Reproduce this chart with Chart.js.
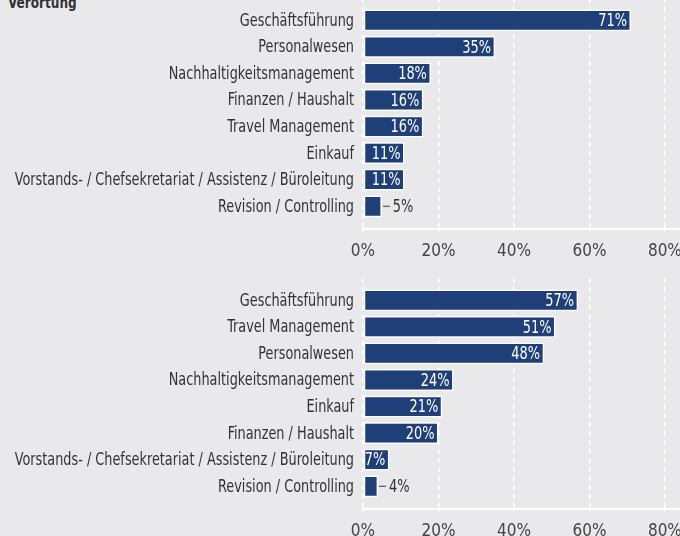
<!DOCTYPE html>
<html>
<head>
<meta charset="utf-8">
<script src="https://cdn.jsdelivr.net/npm/chart.js@4"></script>
<style>
  html, body { margin: 0; padding: 0; background: #e9e9eb; overflow: hidden; }
  body { width: 680px; height: 536px; position: relative; }
  #title { position: absolute; left: 8px; top: -7px; font: bold 16px "DejaVu Sans Condensed", "DejaVu Sans", sans-serif; color: #333;
           transform: scaleX(0.84); transform-origin: left top; }
  canvas { position: absolute; left: 0; }
  #chart1 { top: -3px; }
  #chart2 { top: 277px; }
</style>
</head>
<body>
<div id="title">Verortung</div>
<canvas id="chart1" width="680" height="275"></canvas>
<canvas id="chart2" width="680" height="275"></canvas>
<script>
const labelsTop = ["Geschäftsführung", "Personalwesen", "Nachhaltigkeitsmanagement", "Finanzen / Haushalt", "Travel Management", "Einkauf", "Vorstands- / Chefsekretariat / Assistenz / Büroleitung", "Revision / Controlling"];
const valuesTop = [71, 35, 18, 16, 16, 11, 11, 5];

const labelsBottom = ["Geschäftsführung", "Travel Management", "Personalwesen", "Nachhaltigkeitsmanagement", "Einkauf", "Finanzen / Haushalt", "Vorstands- / Chefsekretariat / Assistenz / Büroleitung", "Revision / Controlling"];
const valuesBottom = [57, 51, 48, 24, 21, 20, 7, 4];

const xTicks = [0, 20, 40, 60, 80];

const FONT = '"DejaVu Sans Condensed", "DejaVu Sans", sans-serif';
const BAR = "#1f3f78";

// no narrow font installed, so squeeze the text a little
function squeezedText(ctx, txt, x, y, align, sx) {
  ctx.save();
  ctx.translate(x, y);
  ctx.scale(sx, 1);
  ctx.textAlign = align;
  ctx.fillText(txt, 0, 0);
  ctx.restore();
}

// category names on the left + value labels on the bars
const textLayer = {
  id: "textLayer",
  afterDatasetsDraw(chart) {
    const ctx = chart.ctx;
    const yScale = chart.scales.y;
    const meta = chart.getDatasetMeta(0);
    const data = chart.data.datasets[0].data;
    ctx.save();
    ctx.textBaseline = "middle";

    ctx.font = "17px " + FONT;
    ctx.fillStyle = "#333";
    chart.data.labels.forEach((lab, i) => {
      squeezedText(ctx, lab, yScale.right - 9, yScale.getPixelForTick(i) + 1, "right", 0.84);
    });

    ctx.font = "18px " + FONT;
    meta.data.forEach((bar, i) => {
      const txt = data[i] + "%";
      if (data[i] < 6) {
        ctx.strokeStyle = "#555";
        ctx.lineWidth = 1.2;
        ctx.beginPath();
        ctx.moveTo(bar.x + 1, bar.y);
        ctx.lineTo(bar.x + 8, bar.y);
        ctx.stroke();
        ctx.fillStyle = "#333";
        squeezedText(ctx, txt, bar.x + 11, bar.y + 1, "left", 0.8);
      } else {
        ctx.fillStyle = "#fff";
        squeezedText(ctx, txt, bar.x - 4, bar.y + 1, "right", 0.8);
      }
    });
    ctx.restore();
  }
};

function makeChart(id, labels, values) {
  return new Chart(document.getElementById(id), {
    type: "bar",
    data: {
      labels: labels,
      datasets: [{
        data: values,
        backgroundColor: BAR,
        borderColor: "#fff",
        borderWidth: 1.5,
        borderSkipped: false,
        barPercentage: 0.82,
        categoryPercentage: 1
      }]
    },
    options: {
      indexAxis: "y",
      responsive: false,
      animation: false,
      devicePixelRatio: 1,
      layout: { padding: { top: 1, right: 0, left: 0, bottom: 0 } },
      plugins: { legend: { display: false }, tooltip: { enabled: false } },
      scales: {
        x: {
          min: 0,
          max: 84,
          afterBuildTicks: (s) => { s.ticks = xTicks.map((v) => ({ value: v })); },
          afterFit: (s) => { s.paddingLeft = 0; s.paddingRight = 0; },
          ticks: {
            color: "#444",
            font: { family: FONT, size: 17 },
            padding: 10,
            callback: (v) => v + "%"
          },
          grid: {
            color: "#fff",
            lineWidth: 1.5,
            tickLength: 3,
            tickColor: "#fff",
            tickBorderDash: [5, 4]
          },
          border: { display: true, color: "#fff", width: 2, dash: [5, 4] }
        },
        y: {
          // leave a bit of empty room above the first and below the last bar
          afterBuildTicks: (s) => { s._startValue -= 0.34; s._valueRange += 0.68; },
          afterFit: (s) => { s.width = 363; s.paddingTop = 0; s.paddingBottom = 0; },
          ticks: { display: false },
          grid: { display: false, drawTicks: false },
          border: { display: false }
        }
      }
    },
    plugins: [textLayer]
  });
}

makeChart("chart1", labelsTop, valuesTop);
makeChart("chart2", labelsBottom, valuesBottom);
</script>
</body>
</html>
